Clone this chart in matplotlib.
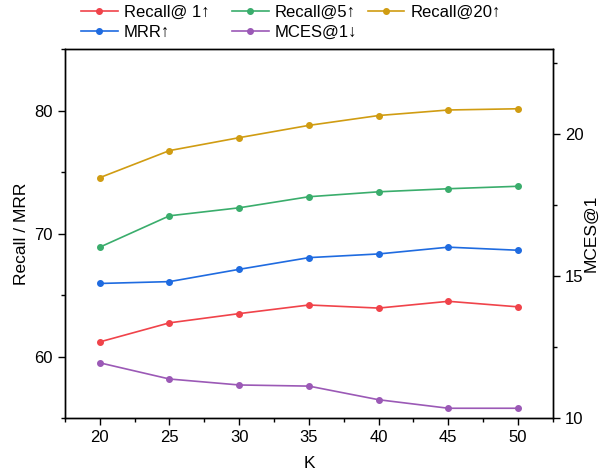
import numpy as np
import matplotlib.pyplot as plt
from matplotlib.ticker import MultipleLocator

plt.rcParams['font.family'] = ['Liberation Sans', 'DejaVu Sans']
plt.rcParams['font.size'] = 12

k = [20, 25, 30, 35, 40, 45, 50]
recall1 = [61.2, 62.75, 63.5, 64.2, 63.95, 64.5, 64.05]
recall5 = [68.9, 71.45, 72.1, 73.0, 73.4, 73.65, 73.85]
recall20 = [74.55, 76.75, 77.8, 78.8, 79.6, 80.05, 80.15]
mrr = [65.95, 66.1, 67.1, 68.05, 68.35, 68.9, 68.65]
mces1 = [11.95, 11.38, 11.17, 11.13, 10.65, 10.35, 10.35]

fig = plt.figure(figsize=(6.01, 4.72), dpi=100)
ax = fig.add_axes([0.108, 0.114, 0.812, 0.782])
ax2 = ax.twinx()

kw = dict(marker='o', markersize=4, linewidth=1.2)
l1, = ax.plot(k, recall1, color='#f0434a', label='Recall@ 1↑', **kw)
l5, = ax.plot(k, recall5, color='#3aad6c', label='Recall@5↑', **kw)
l20, = ax.plot(k, recall20, color='#d09c12', label='Recall@20↑', **kw)
lm, = ax.plot(k, mrr, color='#1f6be0', label='MRR↑', **kw)
lc, = ax2.plot(k, mces1, color='#9b59b6', label='MCES@1↓', **kw)

ax.set_xlim(17.5, 52.5)
ax.set_ylim(55, 85)
ax2.set_ylim(10, 23)
ax.xaxis.set_major_locator(MultipleLocator(5))
ax.xaxis.set_minor_locator(MultipleLocator(2.5))
ax.yaxis.set_major_locator(MultipleLocator(10))
ax.yaxis.set_minor_locator(MultipleLocator(5))
ax2.yaxis.set_major_locator(MultipleLocator(5))
ax2.yaxis.set_minor_locator(MultipleLocator(2.5))

for a in (ax, ax2):
    a.tick_params(which='major', direction='out', length=5, width=1, labelsize=12)
    a.tick_params(which='minor', direction='out', length=3, width=1)
    for s in a.spines.values():
        s.set_linewidth(1)

ax.set_xlabel('K', fontsize=12.5, labelpad=8)
ax.set_ylabel('Recall / MRR', fontsize=12.5)
ax2.set_ylabel('MCES@1', fontsize=12.5, labelpad=0)

# one single-column legend per column, placed like the original
cols = [([l1, lm], 0.135), ([l5, lc], 0.386), ([l20], 0.612)]
for hs, x in cols:
    leg = fig.legend(handles=hs, loc='upper left', bbox_to_anchor=(x, 0.99),
                     frameon=False, handlelength=2.2, handletextpad=0.35,
                     labelspacing=0.3, borderpad=0, borderaxespad=0,
                     fontsize=12)

fig.savefig('out.png', dpi=100)
